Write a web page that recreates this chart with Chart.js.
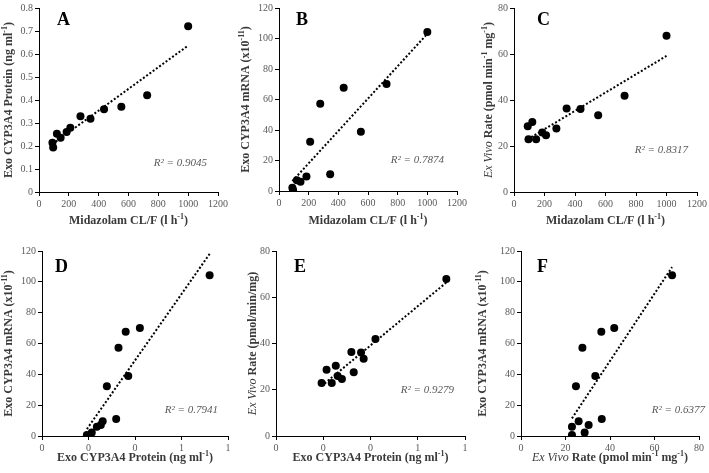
<!DOCTYPE html>
<html>
<head>
<meta charset="utf-8">
<script src="https://cdn.jsdelivr.net/npm/chart.js@4.4.0/dist/chart.umd.min.js"></script>
<style>
body { margin: 0; background: #fff; width: 709px; height: 473px; position: relative; overflow: hidden; }
.panel { position: absolute; }
</style>
</head>
<body>
<div class="panel" style="left:0;top:0;width:236px;height:236px"><canvas id="cA"></canvas></div>
<div class="panel" style="left:236px;top:0;width:236px;height:236px"><canvas id="cB"></canvas></div>
<div class="panel" style="left:472px;top:0;width:237px;height:236px"><canvas id="cC"></canvas></div>
<div class="panel" style="left:0;top:236px;width:236px;height:237px"><canvas id="cD"></canvas></div>
<div class="panel" style="left:236px;top:236px;width:236px;height:237px"><canvas id="cE"></canvas></div>
<div class="panel" style="left:472px;top:236px;width:237px;height:237px"><canvas id="cF"></canvas></div>
<script>
// one value per subject, same order in every array
var clearance = [90, 95, 120, 145, 185, 210, 278, 345, 436, 552, 725, 1000];
var protein = [0.214, 0.193, 0.253, 0.236, 0.261, 0.279, 0.329, 0.319, 0.36, 0.371, 0.421, 0.721];
var mrna = [2.2, 0.6, 7.1, 6.0, 9.5, 32.3, 57.2, 11.0, 67.7, 38.9, 70.1, 104.3];
var exVivo = [28.6, 22.9, 30.4, 22.9, 25.9, 24.7, 27.6, 36.3, 36.1, 33.4, 41.9, 67.9];

var r2Labels = ["R² = 0.9045", "R² = 0.7874", "R² = 0.8317", "R² = 0.7941", "R² = 0.9279", "R² = 0.6377"];
var proteinTickLabels = ["0", "0", "0", "1", "1"];

var FONT = '"Liberation Serif", "Times New Roman", serif';

// least squares line over the x range of the points (like an Excel trendline)
function trend(xs, ys) {
    var n = xs.length, mx = 0, my = 0, sxy = 0, sxx = 0;
    for (var i = 0; i < n; i++) { mx += xs[i] / n; my += ys[i] / n; }
    for (var i = 0; i < n; i++) { sxy += (xs[i] - mx) * (ys[i] - my); sxx += (xs[i] - mx) * (xs[i] - mx); }
    var b = sxy / sxx, a = my - b * mx;
    var lo = Math.min.apply(null, xs), hi = Math.max.apply(null, xs);
    return [{ x: lo, y: a + b * lo }, { x: hi, y: a + b * hi }];
}

// text like "Exo (ng ml^{-1})" or "_Ex Vivo_ Rate"
function drawRich(ctx, str, cx, cy) {
    var parts = str.split(/(\^\{[^}]*\}|_[^_]*_)/).filter(function (s) { return s.length; });
    var segs = parts.map(function (p) {
        if (p[0] === '^') return { t: p.slice(2, -1), f: 'bold 8px ' + FONT, dy: -5 };
        if (p[0] === '_') return { t: p.slice(1, -1), f: 'italic 12px ' + FONT, dy: 0 };
        return { t: p, f: 'bold 12px ' + FONT, dy: 0 };
    });
    var total = 0;
    segs.forEach(function (s) { ctx.font = s.f; s.w = ctx.measureText(s.t).width; total += s.w; });
    var x = cx - total / 2;
    ctx.textAlign = 'left';
    ctx.textBaseline = 'alphabetic';
    segs.forEach(function (s) { ctx.font = s.f; ctx.fillText(s.t, x, cy + 4 + s.dy); x += s.w; });
}

var decor = {
    id: 'decor',
    afterDraw: function (chart, args, o) {
        var ctx = chart.ctx, a = chart.chartArea;
        ctx.save();
        ctx.fillStyle = '#000';
        ctx.font = 'bold 18px ' + FONT;
        ctx.textAlign = 'left';
        ctx.textBaseline = 'middle';
        ctx.fillText(o.letter, o.lp[0], o.lp[1]);

        ctx.fillStyle = '#595959';
        ctx.font = 'italic 11px ' + FONT;
        ctx.textAlign = 'right';
        ctx.fillText(o.r2, o.r2p[0], o.r2p[1]);

        ctx.fillStyle = '#3a3a3a';
        drawRich(ctx, o.xt, (a.left + a.right) / 2, o.xty);
        ctx.translate(o.ytx, (a.top + a.bottom) / 2);
        ctx.rotate(-Math.PI / 2);
        drawRich(ctx, o.yt, 0, 0);
        ctx.restore();
    }
};

var panels = [
    { id: 'cA', xs: clearance, ys: protein, xr: [0, 1200, 200], yr: [0, 0.8, 0.1], area: [39, 5, 218, 192], w: 236, h: 236,
      letter: 'A', lp: [57, 20], r2: r2Labels[0], r2p: [207, 163], ytx: 8, xty: 220,
      xt: 'Midazolam CL/F (l h^{-1})', yt: 'Exo CYP3A4 Protein (ng ml^{-1})' },
    { id: 'cB', xs: clearance, ys: mrna, xr: [0, 1200, 200], yr: [0, 120, 20], area: [43, 5, 221, 191], w: 236, h: 236,
      letter: 'B', lp: [60, 20], r2: r2Labels[1], r2p: [208, 160], ytx: 9, xty: 220,
      xt: 'Midazolam CL/F (l h^{-1})', yt: 'Exo CYP3A4 mRNA (x10^{-11})' },
    { id: 'cC', xs: clearance, ys: exVivo, xr: [0, 1200, 200], yr: [0, 80, 20], area: [42, 5, 225, 192], w: 237, h: 236,
      letter: 'C', lp: [65, 20], r2: r2Labels[2], r2p: [216, 150], ytx: 16, xty: 220,
      xt: 'Midazolam CL/F (l h^{-1})', yt: '_Ex Vivo_ Rate (pmol min^{-1} mg^{-1})' },
    { id: 'cD', xs: protein, ys: mrna, xr: [0, 0.8, 0.2], yr: [0, 120, 20], area: [42, 15, 228, 200], w: 236, h: 237,
      letter: 'D', lp: [55, 31], r2: r2Labels[3], r2p: [218, 174], ytx: 8, xty: 221, xl: proteinTickLabels,
      xt: 'Exo CYP3A4 Protein (ng ml^{-1})', yt: 'Exo CYP3A4 mRNA (x10^{-11})' },
    { id: 'cE', xs: protein, ys: exVivo, xr: [0, 0.8, 0.2], yr: [0, 80, 20], area: [40, 15, 229, 200], w: 236, h: 237,
      letter: 'E', lp: [58, 31], r2: r2Labels[4], r2p: [218, 154], ytx: 16, xty: 221, xl: proteinTickLabels,
      xt: 'Exo CYP3A4 Protein (ng ml^{-1})', yt: '_Ex Vivo_ Rate (pmol/min/mg)' },
    { id: 'cF', xs: exVivo, ys: mrna, xr: [0, 80, 20], yr: [0, 120, 20], area: [49, 15, 227, 200], w: 237, h: 237,
      letter: 'F', lp: [65, 31], r2: r2Labels[5], r2p: [233, 174], ytx: 10, xty: 221,
      xt: '_Ex Vivo_ Rate (pmol min^{-1} mg^{-1})', yt: 'Exo CYP3A4 mRNA (x10^{-11})' }
];

function axis(r, labels) {
    return {
        type: 'linear',
        min: r[0], max: r[1],
        grid: { display: true, drawOnChartArea: false, drawTicks: true, tickLength: 4, color: '#000', lineWidth: 1 },
        border: { display: true, color: '#000', width: 1 },
        ticks: {
            stepSize: r[2], padding: 2, color: '#595959', font: { family: FONT, size: 10 },
            maxRotation: 0, autoSkip: false,
            callback: function (v, i) { return labels ? labels[i] : +v.toFixed(2); }
        }
    };
}

panels.forEach(function (p) {
    var pts = p.xs.map(function (x, i) { return { x: x, y: p.ys[i] }; });
    var xAxis = axis(p.xr, p.xl), yAxis = axis(p.yr);
    xAxis.afterFit = function (s) { s.height = p.h - p.area[3]; };
    yAxis.afterFit = function (s) { s.width = p.area[0]; };
    new Chart(p.id, {
        type: 'scatter',
        data: {
            datasets: [{
                data: pts,
                backgroundColor: '#000', borderWidth: 0, pointRadius: 4, order: 1
            }, {
                data: trend(p.xs, p.ys),
                showLine: true, borderColor: '#000', borderWidth: 2, borderDash: [2, 2],
                pointRadius: 0, order: 2
            }]
        },
        options: {
            responsive: true, maintainAspectRatio: false, animation: false,
            layout: { padding: { top: p.area[1], right: p.w - p.area[2], left: 0, bottom: 0 } },
            scales: { x: xAxis, y: yAxis },
            plugins: { legend: { display: false }, tooltip: { enabled: false }, decor: p }
        },
        plugins: [decor]
    });
});
</script>
</body>
</html>
